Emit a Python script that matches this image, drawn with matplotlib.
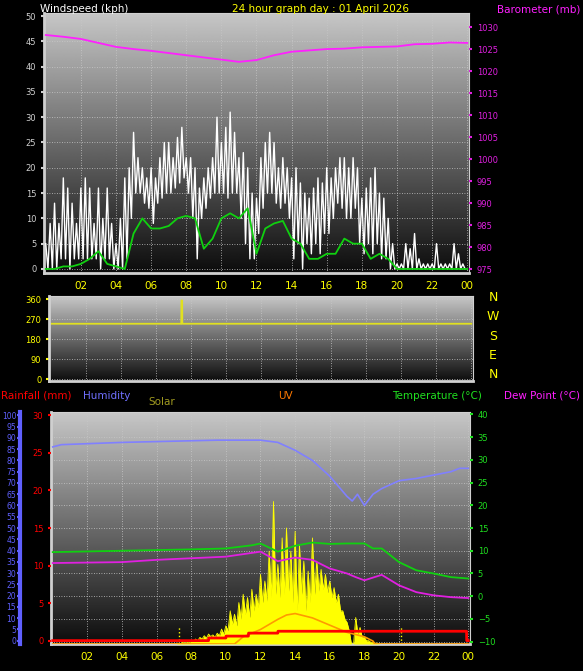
import numpy as np
import matplotlib
matplotlib.use("Agg")
from matplotlib import pyplot as plt

# ---------------- data ----------------
hours15 = np.arange(0, 24, 0.25)
gustHigh = [5, 9, 13, 9, 18, 16, 13, 9, 16, 18, 16, 9, 16, 10, 16, 9,
            5, 10, 18, 20, 27, 22, 20, 18, 20, 18, 22, 25, 25, 22, 26, 28,
            22, 22, 20, 16, 18, 20, 22, 30, 25, 28, 31, 27, 22, 23, 20, 15,
            14, 22, 25, 27, 25, 20, 22, 20, 18, 20, 17, 15, 14, 16, 18, 17,
            20, 18, 20, 22, 22, 20, 22, 20, 14, 16, 18, 20, 15, 14, 10, 5,
            1, 1, 5, 4, 7, 2, 1, 1, 1, 5, 1, 1, 1, 5, 3, 1]
gustLow = [0, 0, 0, 2, 2, 0, 2, 2, 2, 2, 2, 2, 0, 2, 2, 0,
           0, 0, 2, 10, 15, 15, 13, 12, 9, 13, 14, 15, 15, 16, 17, 18,
           15, 10, 2, 10, 12, 14, 15, 15, 15, 14, 15, 15, 10, 5, 2, 2,
           7, 12, 15, 15, 13, 12, 13, 10, 2, 5, 0, 5, 3, 5, 3, 7,
           7, 10, 13, 12, 10, 10, 12, 5, 3, 5, 3, 5, 2, 2, 0, 0,
           0, 0, 0, 0, 0, 0, 0, 0, 0, 0, 0, 0, 0, 0, 0, 0]

hours30 = np.arange(0, 24.5, 0.5)
windAvg = [0, 0, 0.5, 0.5, 1, 2, 3.5, 1, 0.5, 0, 7, 10, 8, 8, 8.5, 10, 10.5,
           10, 4, 6, 10, 11, 10, 12, 3, 8, 9, 9.5, 6, 5, 2, 2, 3, 3, 6, 5, 5,
           2, 3, 2, 0, 0, 0, 0, 0, 0, 0, 0, 0]

hours1 = np.arange(0, 25, 1)
baro = [1028.2, 1027.8, 1027.3, 1026.4, 1025.5, 1025.0, 1024.6, 1024.1, 1023.6,
        1023.1, 1022.6, 1022.1, 1022.5, 1023.6, 1024.4, 1024.7, 1025.0, 1025.1,
        1025.4, 1025.5, 1025.6, 1026.1, 1026.2, 1026.5, 1026.4]

dirTimes = [0, 7.45, 7.46, 7.5, 7.51, 24]
windDir = [250, 250, 355, 355, 250, 250]

tempTimes = [0, 4, 8, 10, 11.5, 12, 13, 14, 15, 16, 17, 18, 18.5, 19, 20, 21, 22, 23, 24]
temperature = [9.7, 10.0, 10.3, 10.5, 11.2, 11.6, 9.8, 11.1, 11.8, 11.5, 11.6, 11.6,
               10.5, 10.5, 7.5, 5.7, 5.0, 4.2, 3.9]
dewTimes = [0, 4, 6, 10, 12, 13, 14, 15, 16, 17, 17.5, 18, 19, 20, 21, 22, 23, 24]
dewPoint = [7.3, 7.5, 8.0, 8.7, 9.8, 7.7, 8.5, 8.0, 6.1, 5.0, 4.2, 3.5, 4.7, 2.4,
            0.9, 0.2, -0.2, -0.4]
humTimes = [0, 0.5, 4, 9.5, 12, 13, 14, 15, 16, 17, 17.3, 17.6, 18, 18.5, 19, 20,
            21, 22, 23, 23.5, 24]
humidity = [86, 87, 88, 89, 89, 88, 84.5, 80, 73, 64, 62, 65, 60, 65, 67.5, 71,
            72, 73.5, 75, 76.5, 76.5]
rainTimes = [0, 9, 9.01, 10, 10.01, 11.3, 11.31, 13, 13.01, 23.9, 23.91, 24]
rainfall = [0, 0, 0.35, 0.35, 0.6, 0.6, 1.0, 1.0, 1.25, 1.25, 0, 0]

solarTimes = np.arange(7, 21.25, 0.25)
solarHigh = [0, 5, 10, 15, 20, 30, 40, 50, 60, 55, 65, 90, 110, 200, 180, 250,
             300, 280, 330, 300, 420, 380, 560, 860, 480, 640, 700, 560, 680, 600,
             500, 440, 640, 500, 450, 420, 380, 340, 300, 200, 130, 0, 160, 100,
             40, 20, 10, 5, 0, 0, 0, 0, 0, 0, 0, 0, 0]
solarLow = [0, 2, 5, 10, 15, 20, 30, 35, 45, 40, 50, 60, 80, 120, 110, 150,
            180, 160, 200, 220, 250, 260, 280, 300, 280, 300, 320, 250, 200, 300,
            200, 250, 300, 320, 330, 310, 280, 250, 200, 150, 80, 0, 60, 40,
            20, 10, 5, 0, 0, 0, 0, 0, 0, 0, 0, 0, 0]
uvTimes = [0, 10.5, 11, 12, 13, 13.5, 14, 15, 16, 17, 18, 18.5, 18.6, 24]
uvIndex = [0, 0, 0.5, 1.0, 1.7, 2.0, 2.1, 1.8, 1.3, 0.8, 0.5, 0.2, 0, 0]

hourTicks = list(range(2, 25, 2))
hourLabels = ["%02d" % (h % 24) for h in hourTicks]

# ---------------- helpers ----------------
W, H = 583, 671
fig = plt.figure(figsize=(W / 100, H / 100), dpi=100, facecolor="black")


def px_axes(left, top, right, bottom):
    return fig.add_axes([left / W, 1 - bottom / H, (right - left) / W, (bottom - top) / H])


grad = np.linspace(0.78, 0.05, 256).reshape(-1, 1)


def style_panel(ax):
    ax.set_facecolor("black")
    ax.imshow(grad, extent=[0, 1, 0, 1], transform=ax.transAxes, cmap="gray",
              vmin=0, vmax=1, aspect="auto", zorder=0)
    for s in ax.spines.values():
        s.set_color("#d0d0d0")
    ax.spines["left"].set_linewidth(2)
    ax.spines["bottom"].set_linewidth(2)
    ax.grid(True, color="#c8c8c8", linestyle=(0, (1, 2)), linewidth=0.6)
    ax.set_xlim(-0.1, 24.1)
    ax.set_xticks(hourTicks)


def interleave(t, hi, lo, step):
    xs, ys = [], []
    for i in range(len(t)):
        xs += [t[i], t[i] + step / 2]
        ys += [hi[i], lo[i]]
    return xs, ys


def hide_spines(ax, keep=None):
    for k, s in ax.spines.items():
        if k != keep:
            s.set_visible(False)


tickKw = dict(labelsize=6, length=2, width=1.5)

# ---------------- top: wind + barometer ----------------
ax1 = px_axes(44, 13, 469, 273)
style_panel(ax1)
ax1.set_ylim(-0.8, 50.6)
ax1.set_yticks(range(0, 51, 5))
ax1.tick_params(axis="y", colors="#d0d0d0", **tickKw)
ax1.tick_params(axis="x", colors="yellow", labelsize=7.5, length=0, pad=6)
ax1.set_xticklabels(hourLabels)
gx, gy = interleave(hours15, gustHigh, gustLow, 0.25)
ax1.plot(gx, gy, color="white", linewidth=1.0, zorder=3)
ax1.plot(hours30, windAvg, color="#10d010", linewidth=1.3, zorder=4)
ax1b = ax1.twinx()
ax1b.set_ylim(974.1, 1033.2)
ax1b.set_yticks(range(975, 1031, 5))
ax1b.tick_params(axis="y", colors="#e020e0", **tickKw)
ax1b.plot(hours1, baro, color="#ff20ff", linewidth=1.3)
hide_spines(ax1b)

fig.text(40 / W, 1 - 9 / H, "Windspeed (kph)", color="white", fontsize=7.5, va="center")
fig.text(320 / W, 1 - 9 / H, "24 hour graph day : 01 April 2026", color="yellow",
         fontsize=7.5, va="center", ha="center")
fig.text(580 / W, 1 - 9 / H, "Barometer (mb)", color="#ff20ff", fontsize=7.5,
         va="center", ha="right")

# ---------------- middle: direction ----------------
ax2 = px_axes(49, 296, 473, 381)
style_panel(ax2)
ax2.set_ylim(-8, 375)
ax2.set_yticks([0, 90, 180, 270, 360])
ax2.tick_params(axis="y", colors="yellow", **tickKw)
ax2.tick_params(axis="x", length=0, labelbottom=False)
ax2.plot(dirTimes, windDir, color="#e0e020", linewidth=1.3)
for i, lab in enumerate(["N", "W", "S", "E", "N"]):
    fig.text(493 / W, 1 - (297 + i * 19.5) / H, lab, color="yellow", fontsize=9,
             ha="center", va="center")

# ---------------- bottom: temp etc ----------------
ax3 = px_axes(51, 412, 470, 644)
style_panel(ax3)
ax3.set_ylim(-10.5, 40.5)
ax3.set_yticks(range(-10, 41, 5))
ax3.tick_params(axis="x", colors="yellow", labelsize=7.5, length=0, pad=6)
ax3.set_xticklabels(hourLabels)

axSolar = ax3.twinx()
axSolar.set_ylim(0, 1400)
axSolar.axis("off")
sx, sy = interleave(solarTimes, solarHigh, solarLow, 0.25)
axSolar.fill_between(sx, 0, sy, color="#ffff00", linewidth=0, zorder=1)
axSolar.plot(sx, sy, color="#ffff00", linewidth=0.6)
axSolar.vlines([7.3, 20.1], 0, 100, color="#ffff00", linestyles=":", linewidth=1)

axUV = ax3.twinx()
axUV.set_ylim(0, 16)
axUV.axis("off")
axUV.plot(uvTimes, uvIndex, color="#ff9a00", linewidth=1.2)

axHum = ax3.twinx()
axHum.set_ylim(-1.5, 101.5)
axHum.yaxis.tick_left()
axHum.spines["left"].set_position(("outward", 22))
axHum.spines["left"].set_color("#6060ff")
axHum.spines["left"].set_linewidth(3)
hide_spines(axHum, "left")
axHum.set_yticks(range(0, 101, 5))
axHum.tick_params(axis="y", colors="#6060ff", labelsize=5.5, length=2, width=1.5, pad=1)
axHum.plot(humTimes, humidity, color="#8080ff", linewidth=1.2)

axRain = ax3.twinx()
axRain.set_ylim(-0.45, 30.45)
axRain.yaxis.tick_left()
hide_spines(axRain)
axRain.set_yticks(range(0, 31, 5))
axRain.tick_params(axis="y", colors="red", **tickKw)
axRain.plot(rainTimes, rainfall, color="red", linewidth=2)

axT = ax3.twinx()
axT.set_ylim(-10.5, 40.5)
axT.set_yticks(range(-10, 41, 5))
axT.yaxis.tick_right()
hide_spines(axT)
axT.tick_params(axis="y", colors="#20e020", **tickKw)
axT.plot(tempTimes, temperature, color="#10d010", linewidth=1.3)
axT.plot(dewTimes, dewPoint, color="#e020e0", linewidth=1.3)
ax3.tick_params(axis="y", left=False, labelleft=False, right=False, labelright=False)

ly = 1 - 396 / H
fig.text(1 / W, ly, "Rainfall (mm)", color="red", fontsize=7.5, va="center")
fig.text(83 / W, ly, "Humidity", color="#7070ff", fontsize=7.5, va="center")
fig.text(148 / W, 1 - 402 / H, "Solar", color="#a09a20", fontsize=7.5, va="center")
fig.text(285 / W, ly, "UV", color="#ff7a00", fontsize=7.5, va="center", ha="center")
fig.text(392 / W, ly, "Temperature (\u00b0C)", color="#20e020", fontsize=7.5, va="center")
fig.text(580 / W, ly, "Dew Point (\u00b0C)", color="#ff20ff", fontsize=7.5, va="center", ha="right")

fig.savefig("out.png", dpi=100, facecolor="black")
